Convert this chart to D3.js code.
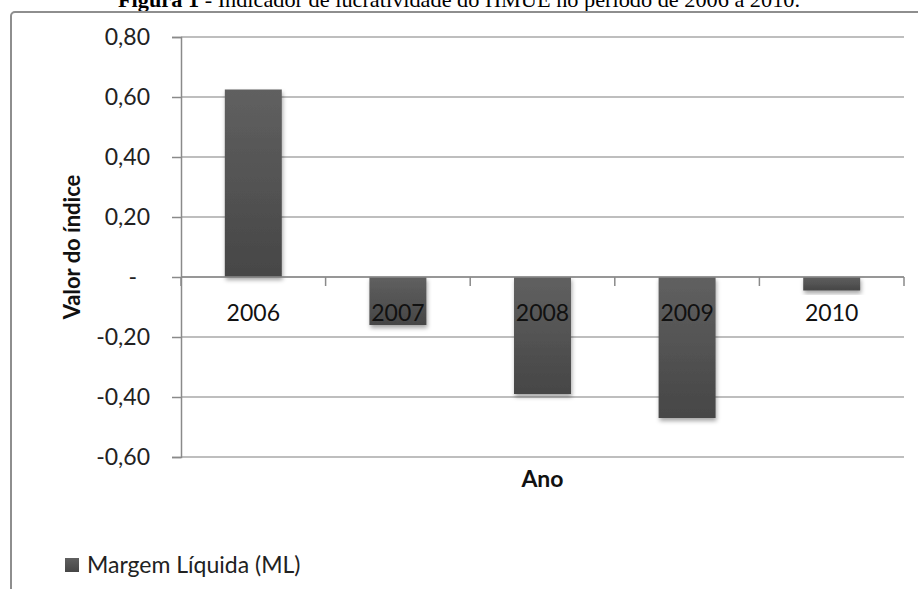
<!DOCTYPE html>
<html>
<head>
<meta charset="utf-8">
<script src="https://cdn.jsdelivr.net/npm/d3@7"></script>
<style>
  body { margin: 0; background: #fff; }
  svg { display: block; }
</style>
</head>
<body>
<div id="chart"></div>
<script>
// data
const years = ["2006", "2007", "2008", "2009", "2010"];
const margemLiquida = [0.625, -0.16, -0.39, -0.47, -0.045];
const yTicks = [-0.6, -0.4, -0.2, 0, 0.2, 0.4, 0.6, 0.8];
const seriesName = "Margem Líquida (ML)";

const width = 918, height = 589;
const plot = {left: 181, right: 904, top: 37, bottom: 457};

const svg = d3.select("#chart").append("svg")
    .attr("width", width)
    .attr("height", height);

const defs = svg.append("defs");
const grad = defs.append("linearGradient")
    .attr("id", "barGrad")
    .attr("x1", 0).attr("y1", 0).attr("x2", 0).attr("y2", 1);
grad.append("stop").attr("offset", "0%").attr("stop-color", "#606060");
grad.append("stop").attr("offset", "100%").attr("stop-color", "#464646");

const shadow = defs.append("filter")
    .attr("id", "shadow")
    .attr("x", "-20%").attr("y", "-20%")
    .attr("width", "150%").attr("height", "150%");
shadow.append("feDropShadow")
    .attr("dx", 1).attr("dy", 3)
    .attr("stdDeviation", 2)
    .attr("flood-color", "#000")
    .attr("flood-opacity", 0.35);

// caption, cut off at the top of the picture as in the source
const title = svg.append("text")
    .attr("x", 459)
    .attr("y", 7)
    .attr("text-anchor", "middle")
    .attr("font-family", "'Liberation Serif', 'DejaVu Serif', serif")
    .attr("font-size", 21)
    .attr("fill", "#000")
    .attr("textLength", 682)
    .attr("lengthAdjust", "spacingAndGlyphs");
title.append("tspan").attr("font-weight", "bold").text("Figura 1");
title.append("tspan").text(" - Indicador de lucratividade do HMUE no período de 2006 a 2010.");

// chart frame (goes past the bottom and right edges)
svg.append("rect")
    .attr("x", 11)
    .attr("y", 12)
    .attr("width", 940)
    .attr("height", 640)
    .attr("rx", 4)
    .attr("fill", "none")
    .attr("stroke", "#8e8e8e")
    .attr("stroke-width", 2);

const y = d3.scaleLinear()
    .domain([-0.6, 0.8])
    .range([plot.bottom, plot.top]);

const x = d3.scaleBand()
    .domain(years)
    .range([plot.left, plot.right])
    .paddingInner(0.606)
    .paddingOuter(0.303);

const fmt = v => {
    if (Math.abs(v) < 1e-9) return "-";
    return d3.format(".2f")(v).replace(".", ",").replace("−", "-");
};

const font = "Lato, 'Open Sans', sans-serif";

// gridlines
svg.append("g")
    .selectAll("line")
    .data(yTicks)
    .enter()
    .append("line")
    .attr("x1", plot.left)
    .attr("x2", plot.right)
    .attr("y1", d => y(d))
    .attr("y2", d => y(d))
    .attr("stroke", "#a8a8a8")
    .attr("stroke-width", 1.5);

// y axis
const yAxis = svg.append("g")
    .attr("transform", "translate(" + plot.left + ",0)")
    .call(d3.axisLeft(y).tickValues(yTicks).tickFormat(fmt).tickSize(9).tickPadding(22));
yAxis.select(".domain").attr("stroke", "#8a8a8a").attr("stroke-width", 1.5);
yAxis.selectAll(".tick line").attr("stroke", "#8a8a8a").attr("stroke-width", 1.5);
yAxis.selectAll(".tick text")
    .attr("font-family", font)
    .attr("font-size", 23)
    .attr("fill", "#222")
    .attr("dx", d => Math.abs(d) < 1e-9 ? -13 : 0);

// bars
svg.append("g")
    .selectAll("rect")
    .data(years)
    .enter()
    .append("rect")
    .attr("x", d => x(d))
    .attr("width", x.bandwidth())
    .attr("y", (d, i) => y(Math.max(0, margemLiquida[i])))
    .attr("height", (d, i) => Math.abs(y(margemLiquida[i]) - y(0)))
    .attr("fill", "url(#barGrad)")
    .attr("filter", "url(#shadow)");

// category axis along zero
const zero = y(0);
svg.append("line")
    .attr("x1", plot.left).attr("x2", plot.right)
    .attr("y1", zero).attr("y2", zero)
    .attr("stroke", "#8a8a8a")
    .attr("stroke-width", 1.5);

const bounds = d3.range(years.length + 1).map(i => plot.left + i * x.step());
svg.append("g")
    .selectAll("line")
    .data(bounds)
    .enter()
    .append("line")
    .attr("x1", d => d).attr("x2", d => d)
    .attr("y1", zero).attr("y2", zero + 9)
    .attr("stroke", "#8a8a8a")
    .attr("stroke-width", 1.5);

svg.append("g")
    .selectAll("text")
    .data(years)
    .enter()
    .append("text")
    .attr("x", d => x(d) + x.bandwidth() / 2)
    .attr("y", zero + 44)
    .attr("text-anchor", "middle")
    .attr("font-family", font)
    .attr("font-size", 23)
    .attr("fill", "#111")
    .text(d => d);

// axis titles
svg.append("text")
    .attr("x", (plot.left + plot.right) / 2)
    .attr("y", 487)
    .attr("text-anchor", "middle")
    .attr("font-family", font)
    .attr("font-weight", "bold")
    .attr("font-size", 23)
    .attr("fill", "#111")
    .text("Ano");

svg.append("text")
    .attr("transform", "translate(80," + ((plot.top + plot.bottom) / 2) + ") rotate(-90)")
    .attr("text-anchor", "middle")
    .attr("font-family", font)
    .attr("font-weight", "bold")
    .attr("font-size", 22)
    .attr("fill", "#111")
    .text("Valor do índice");

// legend
const legend = svg.append("g").attr("transform", "translate(65,558)");
legend.append("rect")
    .attr("width", 14).attr("height", 14)
    .attr("fill", "url(#barGrad)");
legend.append("text")
    .attr("x", 22)
    .attr("y", 15)
    .attr("font-family", font)
    .attr("font-size", 23)
    .attr("fill", "#222")
    .text(seriesName);
</script>
</body>
</html>
